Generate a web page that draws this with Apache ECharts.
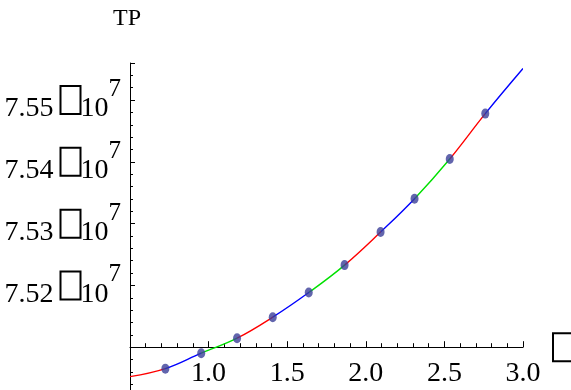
<!DOCTYPE html>
<html>
<head>
<meta charset="utf-8">
<title>TP</title>
<script src="https://cdn.jsdelivr.net/npm/echarts@6/dist/echarts.min.js"></script>
<style>
  html, body { margin: 0; padding: 0; background: #fff; }
  #chart { width: 571px; height: 390px; }
</style>
</head>
<body>
<div id="chart"></div>
<script>
// curve samples: both ends of the range plus the marked points
const curveX = [0.5, 0.725, 0.953, 1.181, 1.408, 1.637, 1.865, 2.094, 2.31, 2.534, 2.76, 3.0];
const curveY = [75052400, 75065300, 75090300, 75114600, 75148600, 75188500,
                75232900, 75286400, 75340400, 75404700, 75478100, 75551100];

// the dots sit on the inner samples
const dotX = curveX.slice(1, -1);
const dotY = curveY.slice(1, -1);

// labelled ticks
const xTicks = [1.0, 1.5, 2.0, 2.5, 3.0];
const yTicks = [75200000, 75300000, 75400000, 75500000];

// the line changes colour at every dot
const segColors = ['#ff0000', '#0000ff', '#00e000'];

const serif = 'Liberation Serif';

const chart = echarts.init(document.getElementById('chart'));

let pieces = [];
for (let i = 0; i < curveX.length - 1; i++) {
    let p = { gte: curveX[i], color: segColors[i % 3] };
    if (i === curveX.length - 2) p.lte = curveX[i + 1];
    else p.lt = curveX[i + 1];
    pieces.push(p);
}

let option = {
    animation: false,
    backgroundColor: '#fff',
    grid: { left: 130, width: 393, top: 63, height: 346, outerBoundsMode: 'none', containLabel: false },
    xAxis: {
        type: 'value',
        min: 0.5,
        max: 3.0,
        interval: 0.5,
        offset: -61.8,
        name: '{b| }',
        nameLocation: 'end',
        nameGap: 30,
        nameTextStyle: {
            verticalAlign: 'middle',
            rich: { b: { width: 24, height: 28, borderColor: '#000', borderWidth: 2 } }
        },
        axisLine: { lineStyle: { color: '#000', width: 1 } },
        axisTick: { inside: true, length: 6, lineStyle: { color: '#000' } },
        minorTick: { show: true, splitNumber: 5, length: 4, lineStyle: { color: '#000' } },
        splitLine: { show: false },
        axisLabel: {
            margin: 12,
            color: '#000',
            fontFamily: serif,
            fontSize: 28,
            formatter: function (v) {
                return xTicks.some(t => Math.abs(t - v) < 1e-9) ? v.toFixed(1) : '';
            }
        }
    },
    yAxis: {
        type: 'value',
        min: 75000000,
        max: 75560000,
        interval: 100000,
        name: 'TP',
        nameLocation: 'end',
        nameGap: 32,
        nameTextStyle: { color: '#000', fontFamily: serif, fontSize: 24, align: 'center', padding: [0, 6, 0, 0] },
        axisLine: { lineStyle: { color: '#000', width: 1 } },
        axisTick: { inside: true, length: 5, lineStyle: { color: '#000' } },
        minorTick: { show: true, splitNumber: 5, length: 3, lineStyle: { color: '#000' } },
        splitLine: { show: false },
        axisLabel: {
            margin: 9,
            color: '#000',
            showMaxLabel: false,
            formatter: function (v) {
                if (!yTicks.some(t => Math.abs(t - v) < 1)) return '';
                return '{n|' + (v / 1e7).toFixed(2) + ' }{b| }{n|10}{s|7}';
            },
            rich: {
                n: { fontFamily: serif, fontSize: 28, lineHeight: 46, color: '#000', verticalAlign: 'bottom' },
                b: { width: 20, height: 28, borderColor: '#000', borderWidth: 2, verticalAlign: 'middle' },
                s: { fontFamily: serif, fontSize: 25, lineHeight: 22, color: '#000', verticalAlign: 'top' }
            }
        }
    },
    visualMap: {
        show: false,
        type: 'piecewise',
        dimension: 0,
        seriesIndex: 0,
        pieces: pieces
    },
    series: [
        {
            type: 'line',
            data: curveX.map((x, i) => [x, curveY[i]]),
            smooth: 0.4,
            showSymbol: false,
            lineStyle: { width: 1.4 },
            z: 2
        },
        {
            type: 'scatter',
            data: dotX.map((x, i) => [x, dotY[i]]),
            symbol: 'circle',
            symbolSize: [8, 10],
            itemStyle: { color: '#3b3f98' },
            z: 3
        }
    ]
};

chart.setOption(option);
</script>
</body>
</html>
